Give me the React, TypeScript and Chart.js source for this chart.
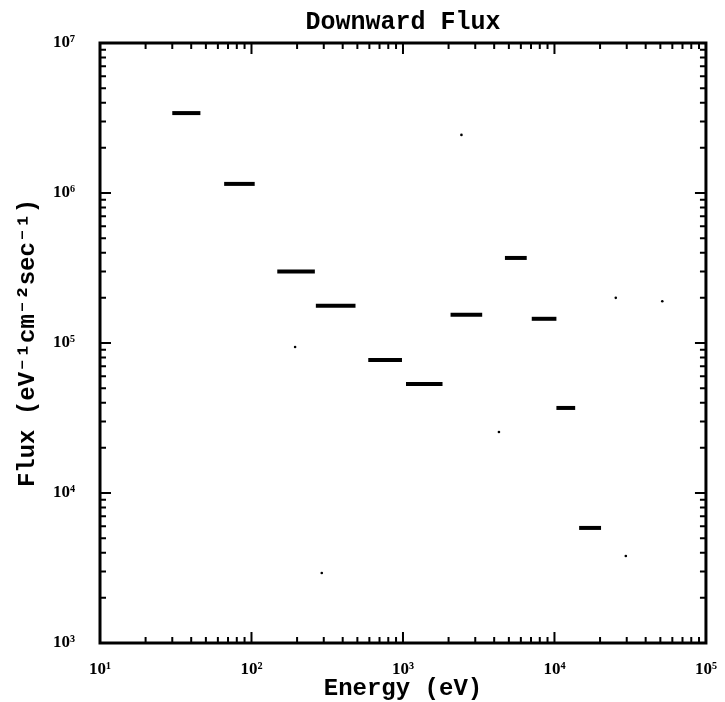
import React, { useEffect, useRef } from "react";
import { Chart, registerables } from "chart.js";

Chart.register(...registerables);

// Energy bins (eV) and downward flux values
const binLow = [30, 66, 148, 266, 590, 1047, 2061, 4710, 7080, 10300, 14550];
const binHigh = [46, 105, 262, 486, 985, 1824, 3334, 6560, 10300, 13700, 20300];
const fluxValues = [3.41e6, 1.15e6, 3.0e5, 1.77e5, 7.7e4, 5.33e4, 1.54e5, 3.69e5, 1.45e5, 3.69e4, 5.85e3];

// small stray marks visible on the scanned figure
const speckEnergy = [2432, 29580, 194, 291, 25400, 51500, 4300];
const speckFlux = [2.44e6, 3.8e3, 9.4e4, 2.93e3, 2.0e5, 1.9e5, 2.55e4];

const xTickLabels = ["10¹", "10²", "10³", "10⁴", "10⁵"];
const yTickLabels = ["10³", "10⁴", "10⁵", "10⁶", "10⁷"];

const TITLE_FONT = "'Liberation Mono', 'DejaVu Sans Mono', monospace";
const TICK_FONT = "'Liberation Serif', 'DejaVu Serif', serif";

const framePlugin = {
  id: "frameTicks",
  afterDatasetsDraw(chart: any) {
    const { ctx, chartArea } = chart;
    const { left, right, top, bottom } = chartArea;
    const xs = chart.scales.x;
    const ys = chart.scales.y;
    ctx.save();
    ctx.strokeStyle = "#000";
    ctx.lineWidth = 2;
    ctx.beginPath();
    for (let k = 1; k < 5; k++) {
      for (let m = 1; m <= 9; m++) {
        const v = m * Math.pow(10, k);
        const px = xs.getPixelForValue(v);
        const len = m === 1 ? 11 : 6;
        ctx.moveTo(px, bottom);
        ctx.lineTo(px, bottom - len);
        ctx.moveTo(px, top);
        ctx.lineTo(px, top + len);
      }
    }
    for (let k = 3; k < 7; k++) {
      for (let m = 1; m <= 9; m++) {
        const v = m * Math.pow(10, k);
        const py = ys.getPixelForValue(v);
        const len = m === 1 ? 11 : 6;
        ctx.moveTo(left, py);
        ctx.lineTo(left + len, py);
        ctx.moveTo(right, py);
        ctx.lineTo(right - len, py);
      }
    }
    ctx.stroke();
    ctx.lineWidth = 3;
    ctx.strokeRect(left, top, right - left, bottom - top);
    ctx.restore();
  },
};

function powerLabel(v: number, labels: string[], minExp: number) {
  const e = Math.log10(v);
  if (Math.abs(e - Math.round(e)) < 1e-9) {
    const idx = Math.round(e) - minExp;
    return labels[idx] ?? "";
  }
  return "";
}

export default function App() {
  const canvasRef = useRef<HTMLCanvasElement | null>(null);

  useEffect(() => {
    if (!canvasRef.current) return;
    const datasets: any[] = binLow.map((lo, i) => ({
      type: "line",
      xAxisID: "x",
      yAxisID: "y",
      data: [
        { x: lo, y: fluxValues[i] },
        { x: binHigh[i], y: fluxValues[i] },
      ],
      borderColor: "#000",
      borderWidth: 4,
      pointRadius: 0,
      fill: false,
    }));
    datasets.push({
      type: "scatter",
      xAxisID: "x",
      yAxisID: "y",
      data: speckEnergy.map((e, i) => ({ x: e, y: speckFlux[i] })),
      backgroundColor: "#000",
      borderWidth: 0,
      pointRadius: 1.3,
    });

    const chart = new Chart(canvasRef.current, {
      type: "line",
      data: { datasets },
      plugins: [framePlugin],
      options: {
        animation: false,
        responsive: false,
        devicePixelRatio: 1,
        layout: { padding: { left: 0, right: 15, top: 0, bottom: 0 } },
        plugins: {
          legend: { display: false },
          tooltip: { enabled: false },
          title: { display: false },
        },
        scales: {
          x: {
            type: "logarithmic",
            position: "bottom",
            min: 10,
            max: 1e5,
            grid: { display: false },
            border: { display: false },
            ticks: {
              autoSkip: false,
              maxRotation: 0,
              color: "#000",
              padding: 8,
              font: { family: TICK_FONT, size: 17, weight: "bold" },
              callback: (v: any) => powerLabel(Number(v), xTickLabels, 1),
            },
            title: {
              display: true,
              text: "Energy (eV)",
              color: "#000",
              font: { family: TITLE_FONT, size: 24, weight: "bold", lineHeight: 1 },
              padding: { top: 0, bottom: 1 },
            },
            afterFit: (s: any) => {
              s.height = 59;
            },
          },
          xTop: {
            type: "logarithmic",
            position: "top",
            min: 10,
            max: 1e5,
            grid: { display: false },
            border: { display: false },
            ticks: { display: false },
            title: {
              display: true,
              text: "Downward Flux",
              color: "#000",
              font: { family: TITLE_FONT, size: 25, weight: "bold", lineHeight: 1.2 },
              padding: { top: 8, bottom: 5 },
            },
            afterFit: (s: any) => {
              s.height = 43;
            },
          },
          y: {
            type: "logarithmic",
            min: 1e3,
            max: 1e7,
            grid: { display: false },
            border: { display: false },
            ticks: {
              autoSkip: false,
              color: "#000",
              padding: 17,
              font: { family: TICK_FONT, size: 17, weight: "bold" },
              callback: (v: any) => powerLabel(Number(v), yTickLabels, 3),
            },
            title: {
              display: true,
              text: "Flux (eV⁻¹cm⁻²sec⁻¹)",
              color: "#000",
              font: { family: TITLE_FONT, size: 24, weight: "bold", lineHeight: 1 },
              padding: { top: 16, bottom: 0 },
            },
            afterFit: (s: any) => {
              s.width = 100;
            },
          },
        },
      } as any,
    });
    return () => chart.destroy();
  }, []);

  return (
    <div style={{ position: "absolute", left: 0, top: 0, width: 725, height: 702, background: "#fff" }}>
      <canvas ref={canvasRef} width={725} height={702} style={{ display: "block" }} />
    </div>
  );
}
